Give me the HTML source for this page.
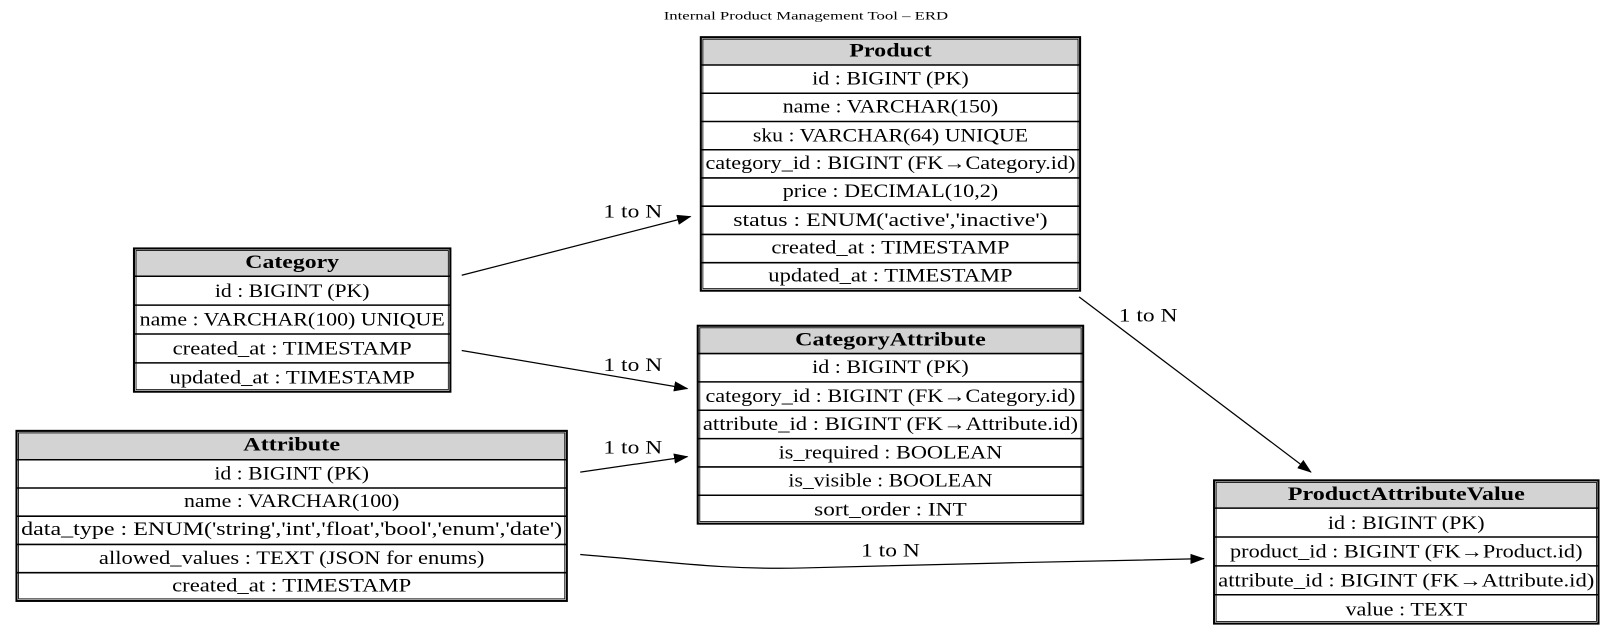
<!DOCTYPE html>
<html><head><meta charset="utf-8"><style>
html,body{margin:0;padding:0;background:#fff;}
svg{display:block;}
text{font-family:"Liberation Serif",serif;fill:#000;}
.t{font-size:18px;text-anchor:middle;}
.h{font-size:18px;font-weight:bold;text-anchor:middle;}
.l{font-size:18px;text-anchor:middle;}
</style></head><body>
<svg width="1616" height="635" viewBox="0 0 1568 616" xmlns="http://www.w3.org/2000/svg">
<defs>
<marker id="a" markerWidth="14" markerHeight="10" refX="13" refY="5" orient="auto" markerUnits="userSpaceOnUse">
<path d="M0,0 L14,5 L0,10 z" fill="#000"/></marker>
</defs>
<text x="782" y="19" style="font-size:11px;text-anchor:middle" textLength="276" lengthAdjust="spacingAndGlyphs">Internal Product Management Tool – ERD</text>

<!-- Product -->
<g>
<rect x="680" y="36" width="368" height="27" fill="#d3d3d3"/>
<rect x="680" y="36" width="368" height="246" fill="none" stroke="#000" stroke-width="2"/>
<rect x="682" y="38" width="364" height="242" fill="none" stroke="#000" stroke-width="0.8"/>
<g stroke="#000" stroke-width="1.5">
<line x1="680" y1="63" x2="1048" y2="63"/><line x1="680" y1="90.4" x2="1048" y2="90.4"/><line x1="680" y1="117.8" x2="1048" y2="117.8"/><line x1="680" y1="145.2" x2="1048" y2="145.2"/><line x1="680" y1="172.6" x2="1048" y2="172.6"/><line x1="680" y1="200" x2="1048" y2="200"/><line x1="680" y1="227.4" x2="1048" y2="227.4"/><line x1="680" y1="254.8" x2="1048" y2="254.8"/>
</g>
<text class="h" x="864" y="55" textLength="80" lengthAdjust="spacingAndGlyphs">Product</text>
<text class="t" x="864" y="82" textLength="152" lengthAdjust="spacingAndGlyphs">id : BIGINT (PK)</text>
<text class="t" x="864" y="109" textLength="209" lengthAdjust="spacingAndGlyphs">name : VARCHAR(150)</text>
<text class="t" x="864" y="137" textLength="267" lengthAdjust="spacingAndGlyphs">sku : VARCHAR(64) UNIQUE</text>
<text class="t" x="864" y="164" textLength="359" lengthAdjust="spacingAndGlyphs">category_id : BIGINT (FK→Category.id)</text>
<text class="t" x="864" y="191" textLength="209" lengthAdjust="spacingAndGlyphs">price : DECIMAL(10,2)</text>
<text class="t" x="864" y="219" textLength="305" lengthAdjust="spacingAndGlyphs">status : ENUM('active','inactive')</text>
<text class="t" x="864" y="246" textLength="231" lengthAdjust="spacingAndGlyphs">created_at : TIMESTAMP</text>
<text class="t" x="864" y="273" textLength="237" lengthAdjust="spacingAndGlyphs">updated_at : TIMESTAMP</text>
</g>

<!-- Category -->
<g>
<rect x="130" y="241" width="307" height="27" fill="#d3d3d3"/>
<rect x="130" y="241" width="307" height="139" fill="none" stroke="#000" stroke-width="2"/>
<rect x="132" y="243" width="303" height="135" fill="none" stroke="#000" stroke-width="0.8"/>
<g stroke="#000" stroke-width="1.5">
<line x1="130" y1="268" x2="437" y2="268"/><line x1="130" y1="296" x2="437" y2="296"/><line x1="130" y1="324" x2="437" y2="324"/><line x1="130" y1="352" x2="437" y2="352"/>
</g>
<text class="h" x="283.5" y="260" textLength="91" lengthAdjust="spacingAndGlyphs">Category</text>
<text class="t" x="283.5" y="288" textLength="150" lengthAdjust="spacingAndGlyphs">id : BIGINT (PK)</text>
<text class="t" x="283.5" y="316" textLength="296" lengthAdjust="spacingAndGlyphs">name : VARCHAR(100) UNIQUE</text>
<text class="t" x="283.5" y="344" textLength="232" lengthAdjust="spacingAndGlyphs">created_at : TIMESTAMP</text>
<text class="t" x="283.5" y="372" textLength="238" lengthAdjust="spacingAndGlyphs">updated_at : TIMESTAMP</text>
</g>

<!-- CategoryAttribute -->
<g>
<rect x="677" y="316" width="374" height="27" fill="#d3d3d3"/>
<rect x="677" y="316" width="374" height="192" fill="none" stroke="#000" stroke-width="2"/>
<rect x="679" y="318" width="370" height="188" fill="none" stroke="#000" stroke-width="0.8"/>
<g stroke="#000" stroke-width="1.5">
<line x1="677" y1="343" x2="1051" y2="343"/><line x1="677" y1="370.5" x2="1051" y2="370.5"/><line x1="677" y1="398" x2="1051" y2="398"/><line x1="677" y1="425.5" x2="1051" y2="425.5"/><line x1="677" y1="453" x2="1051" y2="453"/><line x1="677" y1="480.5" x2="1051" y2="480.5"/>
</g>
<text class="h" x="864" y="335" textLength="185" lengthAdjust="spacingAndGlyphs">CategoryAttribute</text>
<text class="t" x="864" y="362" textLength="152" lengthAdjust="spacingAndGlyphs">id : BIGINT (PK)</text>
<text class="t" x="864" y="390" textLength="359" lengthAdjust="spacingAndGlyphs">category_id : BIGINT (FK→Category.id)</text>
<text class="t" x="864" y="417" textLength="364" lengthAdjust="spacingAndGlyphs">attribute_id : BIGINT (FK→Attribute.id)</text>
<text class="t" x="864" y="445" textLength="217" lengthAdjust="spacingAndGlyphs">is_required : BOOLEAN</text>
<text class="t" x="864" y="472" textLength="198" lengthAdjust="spacingAndGlyphs">is_visible : BOOLEAN</text>
<text class="t" x="864" y="500" textLength="148" lengthAdjust="spacingAndGlyphs">sort_order : INT</text>
</g>

<!-- Attribute -->
<g>
<rect x="16" y="418" width="534" height="28" fill="#d3d3d3"/>
<rect x="16" y="418" width="534" height="165" fill="none" stroke="#000" stroke-width="2"/>
<rect x="18" y="420" width="530" height="161" fill="none" stroke="#000" stroke-width="0.8"/>
<g stroke="#000" stroke-width="1.5">
<line x1="16" y1="446" x2="550" y2="446"/><line x1="16" y1="473.4" x2="550" y2="473.4"/><line x1="16" y1="500.8" x2="550" y2="500.8"/><line x1="16" y1="528.2" x2="550" y2="528.2"/><line x1="16" y1="555.6" x2="550" y2="555.6"/>
</g>
<text class="h" x="283" y="437" textLength="94" lengthAdjust="spacingAndGlyphs">Attribute</text>
<text class="t" x="283" y="465" textLength="150" lengthAdjust="spacingAndGlyphs">id : BIGINT (PK)</text>
<text class="t" x="283" y="492" textLength="209" lengthAdjust="spacingAndGlyphs">name : VARCHAR(100)</text>
<text class="t" x="283" y="519" textLength="525" lengthAdjust="spacingAndGlyphs">data_type : ENUM('string','int','float','bool','enum','date')</text>
<text class="t" x="283" y="547" textLength="374" lengthAdjust="spacingAndGlyphs">allowed_values : TEXT (JSON for enums)</text>
<text class="t" x="283" y="574" textLength="232" lengthAdjust="spacingAndGlyphs">created_at : TIMESTAMP</text>
</g>

<!-- ProductAttributeValue -->
<g>
<rect x="1178" y="466" width="373" height="27" fill="#d3d3d3"/>
<rect x="1178" y="466" width="373" height="139" fill="none" stroke="#000" stroke-width="2"/>
<rect x="1180" y="468" width="369" height="135" fill="none" stroke="#000" stroke-width="0.8"/>
<g stroke="#000" stroke-width="1.5">
<line x1="1178" y1="493" x2="1551" y2="493"/><line x1="1178" y1="521" x2="1551" y2="521"/><line x1="1178" y1="549" x2="1551" y2="549"/><line x1="1178" y1="577" x2="1551" y2="577"/>
</g>
<text class="h" x="1364.5" y="485" textLength="230" lengthAdjust="spacingAndGlyphs">ProductAttributeValue</text>
<text class="t" x="1364.5" y="513" textLength="152" lengthAdjust="spacingAndGlyphs">id : BIGINT (PK)</text>
<text class="t" x="1364.5" y="541" textLength="342" lengthAdjust="spacingAndGlyphs">product_id : BIGINT (FK→Product.id)</text>
<text class="t" x="1364.5" y="569" textLength="365" lengthAdjust="spacingAndGlyphs">attribute_id : BIGINT (FK→Attribute.id)</text>
<text class="t" x="1364.5" y="597" textLength="118" lengthAdjust="spacingAndGlyphs">value : TEXT</text>
</g>

<!-- edges -->
<g stroke="#000" stroke-width="1.2" fill="none">
<line x1="448" y1="267" x2="670" y2="210" marker-end="url(#a)"/>
<line x1="448" y1="340" x2="667" y2="377" marker-end="url(#a)"/>
<line x1="563" y1="458" x2="667" y2="443" marker-end="url(#a)"/>
<line x1="1047" y1="288" x2="1272" y2="458" marker-end="url(#a)"/>
<path d="M563,538 C650,545 700,553 780,551 C900,548 1050,544 1168,542" marker-end="url(#a)"/>
</g>
<text class="l" x="614" y="211" textLength="57" lengthAdjust="spacingAndGlyphs">1 to N</text>
<text class="l" x="614" y="360" textLength="57" lengthAdjust="spacingAndGlyphs">1 to N</text>
<text class="l" x="614" y="440" textLength="57" lengthAdjust="spacingAndGlyphs">1 to N</text>
<text class="l" x="1114" y="312" textLength="57" lengthAdjust="spacingAndGlyphs">1 to N</text>
<text class="l" x="864" y="540" textLength="57" lengthAdjust="spacingAndGlyphs">1 to N</text>
</svg>
</body></html>
